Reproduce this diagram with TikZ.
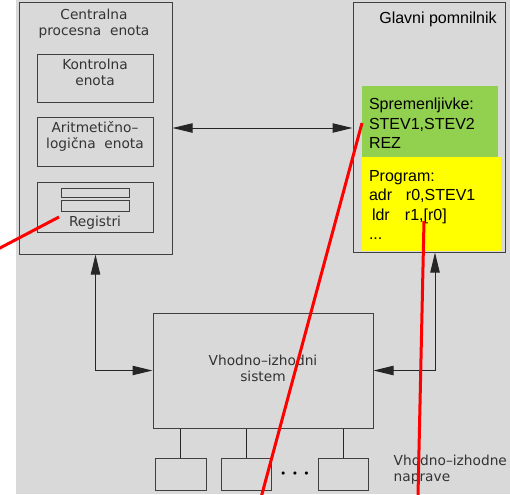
\documentclass[tikz,border=0pt]{standalone}
\usepackage{fontspec}
\setmainfont{Liberation Sans}
\newfontfamily\cadfont{DejaVu Sans}
\usetikzlibrary{arrows.meta,positioning,calc,fit}
\definecolor{panelgray}{HTML}{D9D9D9}
\definecolor{edgegray}{HTML}{404040}
\definecolor{vargreen}{HTML}{92D050}
\definecolor{progyellow}{HTML}{FFFF00}
\definecolor{notered}{HTML}{FF0000}

\begin{document}
\begin{tikzpicture}[x=0.75pt, y=-0.75pt,
    unit/.style={draw=edgegray, line width=0.75pt, inner sep=0pt},
    cad/.style={font=\cadfont\fontsize{10.3}{12}\selectfont, text=black!80, align=center},
    memtxt/.style={font=\fontsize{12}{14.6}\selectfont, align=left, inner sep=0pt},
    bus/.style={{Triangle[length=15pt,width=7pt]}-{Triangle[length=15pt,width=7pt]},
                draw=black!85, line width=0.75pt},
    wire/.style={draw=black!85, line width=0.75pt},
    pointer/.style={draw=notered, line width=2.25pt}
  ]
    \useasboundingbox (0,0) rectangle (510,494);
    \fill[panelgray] (16,0) rectangle (510,494);

    % --- CPU ---
    \node[unit, fit={(19,2) (172,254)}] (cpu) {};
    \node[cad] (cpulbl) at (94,24) {Centralna\\procesna\ \ enota};
    \node[unit, cad, fit={(37,54) (153,102)}] (ctrl) {Kontrolna\\enota};
    \node[unit, cad, fit={(37,117) (153,166)}] (alu) {Aritmetično–\\logična\ \ enota};
    \node[unit, fit={(37,182) (153,232)}] (regs) {};
    \node[unit, fit={(61,188) (129,197)}] (reg1) {};
    \node[unit, fit={(61,200) (129,211)}] (reg2) {};
    \node[cad] (reglbl) at (95,223) {Registri};

    % --- Main memory ---
    \node[unit, fit={(353,2) (505,252)}] (mem) {};
    \node[font=\fontsize{12}{14}\selectfont] (memlbl) at (438,19) {Glavni pomnilnik};
    \node[fill=vargreen, inner sep=0pt, fit={(362,86) (498,157)}] (vars) {};
    \node[memtxt, anchor=west] (varstxt) at ($(vars.west)+(7,2)$)
      {Spremenljivke:\\STEV1,STEV2\\REZ};
    \node[fill=progyellow, inner sep=0pt, fit={(362,157) (501,251)}] (prog) {};
    \node[memtxt, anchor=west] (progtxt) at ($(prog.west)+(7,1)$)
      {Program:\\
       \makebox[27.75pt][l]{adr}r0,STEV1\\
       \hspace{2.25pt}\makebox[24.75pt][l]{ldr}r1,[r0]\\
       ...};

    % --- I/O ---
    \node[unit, fit={(153,313) (373,428)}] (io) {};
    \node[cad] (iolbl) at (263,368) {Vhodno–izhodni\\sistem};
    \node[unit, fit={(155,458) (206,490)}] (dev1) {};
    \node[unit, fit={(221,458) (271,490)}] (dev2) {};
    \node[unit, fit={(318,458) (368,490)}] (dev3) {};
    \node[font=\cadfont\fontsize{8}{8}\selectfont] (dots) at (295,475)
      {•\hspace{4pt}•\hspace{4pt}•};
    \node[cad, anchor=west, align=left] (devlbl) at (389,470) {Vhodno–izhodne\\naprave};

    % --- connections ---
    \draw[bus] (cpu.east) -- (cpu.east -| mem.west);
    \draw[bus] (cpu.south) |- (io.west);
    \draw[bus] ($(mem.south)+(6,0)$) |- (io.east);
    \foreach \d in {dev1,dev2,dev3}
      \draw[wire] (io.south -| \d.north) -- (\d.north);

    % --- red pointers ---
    \coordinate (regend) at (-5,250.6);
    \coordinate (varend) at (260.4,500);
    \coordinate (progend) at (417.9,500);
    \draw[pointer] (59,217) -- (regend);
    \draw[pointer] (362,123) -- (varend);
    \draw[pointer] (424,221) -- (progend);
\end{tikzpicture}
\end{document}
